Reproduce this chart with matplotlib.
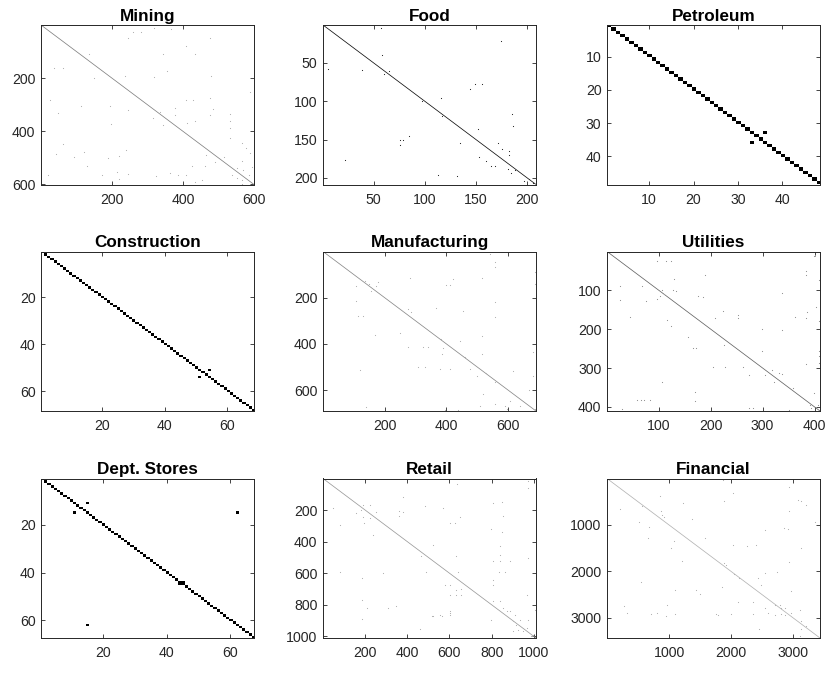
import numpy as np
import matplotlib
matplotlib.use("Agg")
import matplotlib.pyplot as plt

plt.rcParams["font.family"] = ["Liberation Sans", "DejaVu Sans"]

# --- panel names, matrix sizes, tick values ---
titles = ["Mining", "Food", "Petroleum",
          "Construction", "Manufacturing", "Utilities",
          "Dept. Stores", "Retail", "Financial"]
sizes = [600, 208, 48, 68, 690, 410, 67, 1010, 3430]
ticks = [[200, 400, 600], [50, 100, 150, 200], [10, 20, 30, 40],
         [20, 40, 60], [200, 400, 600], [100, 200, 300, 400],
         [20, 40, 60], [200, 400, 600, 800, 1000], [1000, 2000, 3000]]

# --- off-diagonal nonzeros (row, col), 1-based ---
mining_off = [(28, 259), (28, 281), (13, 319), (16, 368), (50, 477), (50, 245), (79, 409),
              (110, 344), (110, 434), (110, 136), (163, 38), (163, 63), (172, 356), (192, 480),
              (197, 319), (192, 237), (198, 150), (251, 588), (282, 27), (276, 477), (282, 409),
              (282, 428), (326, 337), (314, 377), (318, 486), (320, 245), (304, 112), (304, 195),
              (333, 48), (339, 377), (351, 316), (339, 477), (335, 532), (368, 413), (360, 532),
              (377, 344), (373, 197), (360, 434), (389, 534), (449, 62), (424, 532), (443, 567),
              (462, 578), (481, 588), (486, 44), (500, 188), (471, 240), (492, 221), (477, 121),
              (496, 93), (489, 465), (515, 491), (496, 515), (536, 595), (511, 567), (567, 325),
              (530, 425), (530, 463), (540, 553), (546, 569), (565, 586), (565, 171), (565, 20),
              (558, 363), (565, 387), (565, 410), (584, 567), (590, 434), (584, 453), (565, 538),
              (577, 554), (598, 567), (552, 214), (581, 221), (531, 131), (562, 245)]
food_off = [(5, 57), (22, 174), (39, 58), (58, 5), (59, 39), (60, 65), (65, 60), (78, 149),
            (77, 156), (84, 144), (96, 116), (100, 97), (119, 117), (117, 185), (132, 186),
            (136, 152), (154, 134), (151, 76), (151, 79), (145, 84), (157, 76), (155, 171),
            (162, 175), (165, 182), (170, 182), (173, 153), (178, 160), (176, 22), (184, 168),
            (184, 165), (188, 181), (190, 188), (196, 113), (197, 131), (204, 197), (201, 202),
            (205, 205), (207, 206), (193, 184)]
petroleum_off = [(33, 36), (36, 33)]
construction_off = [(51, 54), (54, 51)]
manufacturing_off = [(12, 541), (48, 557), (69, 557), (91, 687), (141, 687), (113, 281),
                     (120, 422), (146, 398), (146, 411), (117, 514), (127, 135), (139, 151),
                     (149, 173), (134, 179), (149, 108), (170, 157), (214, 108), (221, 557),
                     (247, 368), (257, 454), (250, 276), (261, 287), (257, 260), (279, 130),
                     (279, 114), (286, 557), (351, 249), (387, 444), (380, 384), (362, 168),
                     (368, 514), (413, 276), (413, 325), (413, 341), (416, 390), (445, 387),
                     (442, 514), (459, 460), (435, 682), (502, 308), (500, 330), (507, 379),
                     (513, 119), (510, 476), (507, 411), (539, 498), (528, 530), (517, 617),
                     (539, 682), (567, 557), (618, 519), (661, 557), (669, 509), (669, 590),
                     (647, 606), (669, 638), (599, 669), (673, 141), (688, 395), (686, 438),
                     (683, 595), (683, 687)]
utilities_off = [(26, 97), (26, 114), (26, 123), (13, 399), (9, 401), (51, 383), (60, 383),
                 (73, 408), (60, 190), (71, 129), (90, 25), (124, 25), (90, 68), (99, 107),
                 (116, 102), (122, 97), (109, 110), (99, 127), (103, 133), (114, 175),
                 (118, 185), (106, 337), (142, 402), (154, 224), (163, 252), (172, 252),
                 (172, 208), (157, 385), (172, 384), (169, 363), (169, 45), (176, 116),
                 (191, 123), (221, 156), (127, 75), (199, 299), (180, 408), (249, 167),
                 (249, 171), (240, 225), (202, 337), (257, 299), (257, 408), (269, 408),
                 (287, 408), (289, 383), (298, 204), (298, 228), (298, 263), (335, 106),
                 (317, 273), (317, 305), (313, 331), (316, 337), (305, 318), (335, 321),
                 (352, 358), (365, 399), (362, 169), (382, 71), (382, 65), (382, 58),
                 (382, 84), (386, 169), (406, 29), (403, 273), (402, 282), (408, 350),
                 (403, 393), (402, 402), (395, 406), (395, 391)]
dept_off = [(11, 15), (15, 11), (15, 62), (62, 15), (44, 45), (45, 44)]
retail_off = [(38, 638), (15, 974), (63, 974), (116, 380), (173, 483), (158, 807), (147, 847),
              (187, 47), (168, 190), (200, 182), (168, 222), (206, 359), (236, 359), (189, 570),
              (210, 380), (242, 190), (248, 222), (215, 253), (221, 158), (284, 605), (284, 625),
              (242, 649), (238, 855), (295, 79), (284, 195), (322, 799), (337, 847), (358, 237),
              (421, 522), (431, 839), (505, 974), (494, 467), (490, 633), (484, 839), (526, 807),
              (522, 839), (526, 886), (595, 79), (600, 285), (595, 491), (595, 641), (593, 836),
              (595, 863), (631, 187), (642, 807), (677, 807), (673, 578), (673, 602), (705, 633),
              (699, 657), (736, 602), (736, 657), (736, 633), (837, 602), (852, 602), (863, 602),
              (768, 187), (736, 966), (831, 1005), (894, 974), (821, 211), (821, 309), (810, 348),
              (863, 554), (873, 522), (873, 515), (873, 567), (953, 459), (888, 187), (778, 839),
              (774, 807), (821, 855), (842, 886), (863, 910), (873, 871), (905, 902), (894, 934),
              (947, 966), (926, 918), (968, 950), (968, 902), (989, 997), (894, 799), (842, 871),
              (957, 926), (1000, 989)]
financial_off = [(36, 1863), (193, 2932), (322, 2025), (372, 853), (486, 1890), (536, 1231),
                 (465, 3078), (486, 3121), (572, 3213), (658, 205), (593, 567), (701, 864),
                 (701, 2932), (787, 880), (822, 918), (880, 1366), (944, 513), (1037, 675),
                 (930, 3348), (1058, 2851), (1094, 2916), (1108, 2549), (1287, 1582),
                 (1287, 664), (1344, 1080), (1502, 1026), (1430, 2036), (1451, 2252),
                 (1430, 2403), (1502, 3121), (1773, 1215), (1809, 1890), (1859, 1917),
                 (1788, 2932), (2059, 2052), (2145, 2122), (2002, 2743), (2023, 2549),
                 (2145, 2430), (2217, 540), (2324, 1852), (2288, 2473), (2395, 1091),
                 (2395, 1431), (2481, 1501), (2417, 2959), (2646, 2106), (2646, 2349),
                 (2789, 2538), (2717, 2700), (2717, 2781), (2789, 2808), (2789, 2862),
                 (2753, 270), (2731, 961), (2824, 3105), (2896, 2592), (2932, 2700),
                 (2917, 2808), (2932, 2862), (2896, 2970), (2896, 324), (2917, 702),
                 (2896, 810), (2953, 945), (2917, 1096), (2917, 1755), (2910, 1998),
                 (2917, 2349), (2932, 1782), (3075, 3121), (3182, 3213), (3232, 3132),
                 (3396, 3105), (3232, 2446)]
offdiag = [mining_off, food_off, petroleum_off, construction_off, manufacturing_off,
           utilities_off, dept_off, retail_off, financial_off]

W, H = 830, 673
fig = plt.figure(figsize=(W / 100, H / 100), dpi=100)

col_left = [41, 323, 607]
row_top = [25, 251.5, 478.5]
ax_w, ax_h = 213, 159.5
edge = "#262626"

for k in range(9):
    n = sizes[k]
    r, c = divmod(k, 3)
    ax = fig.add_axes([col_left[c] / W, 1 - (row_top[r] + ax_h) / H, ax_w / W, ax_h / H])

    # sparse pattern: identity plus the off-diagonal entries
    M = np.eye(n, dtype=bool)
    for i, j in offdiag[k]:
        M[min(i, n) - 1, min(j, n) - 1] = True

    if n <= 100:
        ax.imshow(M, cmap="gray_r", interpolation="nearest", aspect="auto",
                  extent=(0.5, n + 0.5, n + 0.5, 0.5), vmin=0, vmax=1)
    else:
        # too many cells per pixel: draw the pattern as faint marks
        cell = ax_w / n
        diag_shade = float(np.clip(0.25 + 0.7 * cell, 0.3, 0.95))
        dot_shade = float(np.clip(0.8 * cell, 0.3, 0.85))
        idx = np.arange(1, n + 1)
        ax.plot(idx, idx, "-", lw=0.55, color=str(1 - diag_shade))
        rows, cols = np.nonzero(M & ~np.eye(n, dtype=bool))
        ax.plot(cols + 1, rows + 1, "s", ms=0.75, mew=0, color=str(1 - dot_shade))
        ax.set_xlim(0.5, n + 0.5)
        ax.set_ylim(n + 0.5, 0.5)

    ax.set_xticks(ticks[k])
    ax.set_yticks(ticks[k])
    ax.tick_params(direction="in", top=True, right=True, length=3, width=0.6,
                   labelsize=10.2, colors=edge, pad=4)
    ax.tick_params(axis="x", pad=6)
    for s in ax.spines.values():
        s.set_color(edge)
        s.set_linewidth(0.7)
    ax.set_title(titles[k], fontsize=12.3, fontweight="bold", pad=3)

fig.savefig("out.png", dpi=100)
